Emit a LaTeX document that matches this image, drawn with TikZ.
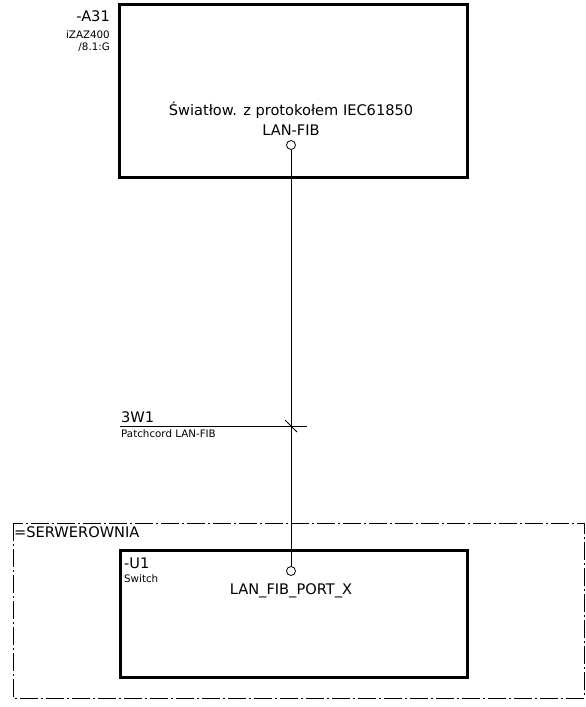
\documentclass[tikz,border=0pt]{standalone}
\usepackage{fontspec}
\setmainfont{DejaVu Sans}
\begin{document}
\begin{tikzpicture}[x=1pt,y=-1pt,
  devbox/.style={draw, line width=3pt},
  grpbox/.style={draw, line width=0.8pt, dash pattern=on 18pt off 3pt on 2pt off 3pt},
  wire/.style={draw, line width=0.8pt},
  port/.style={circle, draw, line width=0.8pt, fill=white, minimum size=9pt, inner sep=0pt},
  big/.style={font=\fontsize{14.6}{16}\selectfont, inner sep=0pt},
  small/.style={font=\fontsize{10.3}{11}\selectfont, inner sep=0pt}]
\useasboundingbox (0,0) rectangle (586,707);
% top device
\draw[devbox] (119,4) rectangle (467,177);
\node[big, anchor=base east] (a31) at (110,21) {-A31};
\node[small, anchor=base east] (a31t) at (110,38) {iZAZ400};
\node[small, anchor=base east] (a31p) at (110,50) {/8.1:G};
\node[big, anchor=base] (desc) at (291,115) {Światłow. z protokołem IEC61850};
\node[big, anchor=base] (lanfib) at (291,135) {LAN-FIB};
\node[port] (p1) at (291,145) {};
% group box
\draw[grpbox] (13,523) rectangle (584,698);
\node[big, anchor=base west] (grp) at (14,537) {=SERWEROWNIA};
% bottom device
\draw[devbox] (120,550) rectangle (467,677);
\node[big, anchor=base west] (u1) at (124,568) {-U1};
\node[small, anchor=base west] (sw) at (124,582) {Switch};
\node[port] (p2) at (291,571) {};
\node[big, anchor=base] (port) at (291,594) {LAN\_FIB\_PORT\_X};
% cable
\draw[wire] (p1) -- (p2);
\coordinate (cl) at (120,426);
\coordinate (cr) at (307,426);
\draw[wire] (cl) -- (cr);
\coordinate (s1) at (285,420);
\coordinate (s2) at (297,432);
\draw[wire] (s1) -- (s2);
\node[big, anchor=base west] (w1) at (121,422) {3W1};
\node[small, anchor=base west] (w1t) at (121,437) {Patchcord LAN-FIB};
\end{tikzpicture}
\end{document}
